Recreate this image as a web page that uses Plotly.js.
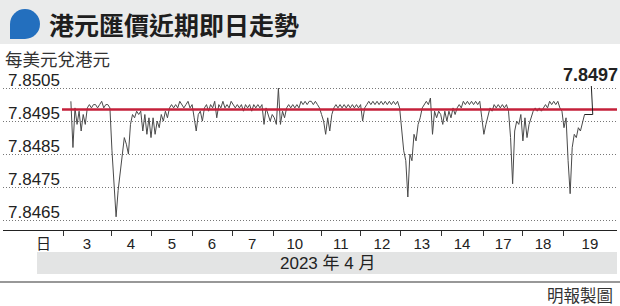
<!DOCTYPE html>
<html>
<head>
<meta charset="utf-8">
<script src="https://cdn.plot.ly/plotly-3.0.1.min.js"></script>
<style>html,body{margin:0;padding:0;background:#fff;}#chart{width:620px;height:306px;}</style>
</head>
<body>
<div id="chart"></div>
<script>
// ---- data (HKD per USD, intraday, April 2023) ----
const days = ['3','4','5','6','7','10','11','12','13','14','17','18','19'];
const unitLabel = '日';
const monthLabel = '2023 年 4 月';
const refLevel = 7.84985;

const rate3  = [7.8501,7.8487,7.8499,7.8494,7.8498,7.8492,7.8497,7.8494,7.8499,7.8500,7.8499,7.8500,7.8500,7.8499,7.8500,7.8501,7.8499,7.8500,7.8500,7.8499];
const rate4  = [7.8486,7.8477,7.8466,7.8474,7.8480,7.8486,7.8490,7.8488,7.8485,7.8494,7.8497,7.8496,7.8498,7.8497,7.8498,7.8492,7.8497,7.8491,7.8496,7.8490];
const rate5  = [7.8496,7.8491,7.8495,7.8493,7.8497,7.8495,7.8498,7.8496,7.8499,7.8500,7.8499,7.8500,7.8499,7.8501,7.8500,7.8499,7.8500,7.8501,7.8499,7.8500];
const rate6  = [7.8496,7.8492,7.8497,7.8498,7.8495,7.8499,7.8500,7.8498,7.8500,7.8499,7.8501,7.8496,7.8500,7.8499,7.8501,7.8499,7.8500,7.8499,7.8501,7.8500];
const rate7  = [7.8499,7.8500,7.8499,7.8500,7.8498,7.8500,7.8499,7.8500,7.8498,7.8500,7.8499,7.8500,7.8499,7.8500,7.8494,7.8499,7.8497,7.8495,7.8497,7.8496];
const rate10 = [7.8494,7.8505,7.8494,7.8498,7.8496,7.8499,7.8500,7.8499,7.8500,7.8499,7.8500,7.8499,7.8501,7.8500,7.8501,7.8500,7.8501,7.8501,7.8500,7.8501];
const rate11 = [7.8500,7.8499,7.8497,7.8495,7.8491,7.8496,7.8492,7.8497,7.8499,7.8500,7.8499,7.8500,7.8499,7.8500,7.8499,7.8500,7.8499,7.8500,7.8499,7.8500];
const rate12 = [7.8499,7.8500,7.8495,7.8499,7.8500,7.8501,7.8500,7.8501,7.8500,7.8501,7.8500,7.8501,7.8500,7.8501,7.8500,7.8501,7.8500,7.8501,7.8500,7.8501];
const rate13 = [7.8499,7.8492,7.8486,7.8483,7.8472,7.8485,7.8483,7.8491,7.8489,7.8494,7.8496,7.8499,7.8500,7.8501,7.8500,7.8502,7.8491,7.8498,7.8496,7.8498];
const rate14 = [7.8497,7.8494,7.8498,7.8495,7.8498,7.8496,7.8499,7.8497,7.8499,7.8500,7.8499,7.8501,7.8500,7.8501,7.8500,7.8501,7.8500,7.8501,7.8500,7.8501];
const rate17 = [7.8496,7.8491,7.8494,7.8497,7.8499,7.8498,7.8500,7.8499,7.8500,7.8499,7.8500,7.8499,7.8500,7.8498,7.8490,7.8476,7.8492,7.8495,7.8494,7.8497];
const rate18 = [7.8489,7.8496,7.8490,7.8494,7.8496,7.8498,7.8499,7.8498,7.8499,7.8498,7.8499,7.8500,7.8499,7.8501,7.8500,7.8501,7.8500,7.8501,7.8499,7.8498];
const rate19 = [7.8493,7.8496,7.8483,7.8473,7.8487,7.8491,7.8490,7.8493,7.8492,7.8495,7.8497];

const series = [rate3, rate4, rate5, rate6, rate7, rate10, rate11, rate12, rate13, rate14, rate17, rate18, rate19];

// ---- layout helpers ----
const W = 620, H = 306;
const px = p => p / W;
const py = p => (H - p) / H;
const slotsPerDay = 20;

const xs = [], ys = [];
series.forEach((arr, d) => {
  arr.forEach((v, j) => { xs.push(d + j / slotsPerDay); ys.push(v); });
});
const lastX = xs[xs.length - 1];
const lastV = ys[ys.length - 1];
const leaderX = lastX + 0.2;

const labelPos  = [0.39, 1.46, 2.46, 3.43, 4.41, 5.45, 6.57, 7.57, 8.54, 9.52, 10.52, 11.49, 12.63];
const boundPos  = [-0.19, 1, 1.97, 2.97, 3.94, 4.92, 6.11, 7.04, 8.01, 9.03, 10.03, 11, 12];
const xRange = [-1.652, 13.29];
const yRange = [7.8462, 7.8512];
const yTicks = [7.8465, 7.8475, 7.8485, 7.8495, 7.8505];

const numFont = 'Liberation Sans, Arial, Noto Sans CJK TC, sans-serif';
const cjkFont = 'Noto Sans CJK TC, Noto Sans CJK SC, sans-serif';

const traces = [
  {type: 'scatter', mode: 'lines', x: xs, y: ys,
   line: {color: '#4a4a4a', width: 1}, hoverinfo: 'skip', xaxis: 'x', yaxis: 'y'},
  // carrier for the day-boundary tick axis
  {type: 'scatter', mode: 'markers', x: [xRange[0]], y: [yRange[0]], marker: {opacity: 0, size: 1},
   hoverinfo: 'skip', xaxis: 'x2', yaxis: 'y'}
];

const layout = {
  width: W, height: H,
  margin: {l: 0, r: 0, t: 0, b: 0, pad: 0},
  paper_bgcolor: '#ffffff', plot_bgcolor: 'rgba(0,0,0,0)',
  showlegend: false,
  xaxis: {
    domain: [px(3), px(617)], range: xRange, fixedrange: true,
    tickmode: 'array', tickvals: labelPos, ticktext: days,
    ticks: '', showgrid: false, zeroline: false,
    showline: true, linecolor: '#222', linewidth: 1.2,
    tickfont: {family: numFont, size: 15, color: '#222'},
    ticklabelstandoff: 0
  },
  xaxis2: {
    domain: [px(3), px(617)],
    overlaying: 'x', anchor: 'y', side: 'bottom', range: xRange, fixedrange: true,
    tickmode: 'array', tickvals: boundPos, showticklabels: false,
    ticks: 'outside', ticklen: 5, tickwidth: 1, tickcolor: '#333',
    showgrid: false, zeroline: false, showline: false
  },
  yaxis: {
    domain: [py(230), py(65)], range: yRange, fixedrange: true,
    tickmode: 'array', tickvals: yTicks, tickformat: '.4f',
    ticks: '', ticklabelposition: 'inside', ticklabelshift: -8, ticklabelstandoff: 2,
    showgrid: true, gridcolor: '#777', gridwidth: 1, griddash: '1px,2px',
    zeroline: false, showline: false,
    tickfont: {family: numFont, size: 17, color: '#222'}
  },
  shapes: [
    // title bar
    {type: 'rect', xref: 'paper', yref: 'paper', x0: 0, x1: 1, y0: py(44), y1: py(0),
     fillcolor: '#eaebeb', line: {width: 0}, layer: 'below'},
    // bubble icon
    {type: 'circle', xref: 'paper', yref: 'paper', x0: px(10), x1: px(40), y0: py(39), y1: py(9),
     fillcolor: '#236fbe', line: {width: 0}},
    {type: 'rect', xref: 'paper', yref: 'paper', x0: px(10), x1: px(25), y0: py(39), y1: py(24),
     fillcolor: '#236fbe', line: {width: 0}},
    // month band
    {type: 'rect', xref: 'paper', yref: 'paper', x0: px(37), x1: px(617), y0: py(274), y1: py(252),
     fillcolor: '#e3e4e4', line: {width: 0}, layer: 'below'},
    // bottom rule
    {type: 'line', xref: 'paper', yref: 'paper', x0: 0, x1: 1, y0: py(282), y1: py(282),
     line: {color: '#333', width: 1.2}},
    // reference level
    {type: 'line', xref: 'paper', yref: 'y', x0: px(62), x1: px(617), y0: refLevel, y1: refLevel,
     line: {color: '#c4203a', width: 2.6}},
    // leader from last point
    {type: 'line', xref: 'x', yref: 'y', x0: lastX, x1: leaderX, y0: lastV, y1: lastV,
     line: {color: '#222', width: 1}}
  ],
  annotations: [
    {xref: 'paper', yref: 'paper', x: px(47), y: py(24), xanchor: 'left', yanchor: 'middle',
     text: '<b>港元匯價近期即日走勢</b>', showarrow: false,
     font: {family: cjkFont, size: 25, color: '#1e1e1e'}},
    {xref: 'paper', yref: 'paper', x: px(3), y: py(59), xanchor: 'left', yanchor: 'middle',
     text: '每美元兌港元', showarrow: false,
     font: {family: cjkFont, size: 17.5, color: '#333'}},
    {xref: 'paper', yref: 'paper', x: px(43), y: py(242), xanchor: 'center', yanchor: 'middle',
     text: unitLabel, showarrow: false,
     font: {family: cjkFont, size: 15, color: '#222'}},
    {xref: 'paper', yref: 'paper', x: px(327), y: py(263), xanchor: 'center', yanchor: 'middle',
     text: monthLabel, showarrow: false,
     font: {family: numFont, size: 17, color: '#222'}},
    {xref: 'paper', yref: 'paper', x: px(615), y: py(295), xanchor: 'right', yanchor: 'middle',
     text: '明報製圖', showarrow: false,
     font: {family: cjkFont, size: 16.5, color: '#333'}},
    {xref: 'x', yref: 'y', x: leaderX, y: lastV, text: '<b>' + lastV.toFixed(4) + '</b>',
     showarrow: true, arrowhead: 0, arrowwidth: 1, arrowcolor: '#222',
     axref: 'pixel', ayref: 'pixel', ax: -2, ay: -40, standoff: 0,
     font: {family: numFont, size: 18, color: '#222'}}
  ]
};

Plotly.newPlot('chart', traces, layout, {staticPlot: true, displayModeBar: false});
</script>
</body>
</html>
